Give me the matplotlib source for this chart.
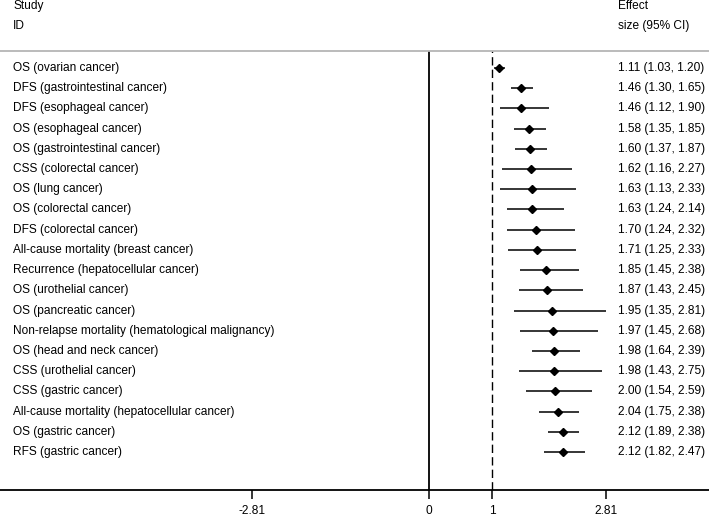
"""Forest plot of effect sizes (95% CI) by outcome and cancer type."""

import matplotlib.pyplot as plt
import matplotlib.transforms as mtransforms

plt.rcParams["font.family"] = ["Liberation Sans", "DejaVu Sans"]

studies = [
    "OS (ovarian cancer)",
    "DFS (gastrointestinal cancer)",
    "DFS (esophageal cancer)",
    "OS (esophageal cancer)",
    "OS (gastrointestinal cancer)",
    "CSS (colorectal cancer)",
    "OS (lung cancer)",
    "OS (colorectal cancer)",
    "DFS (colorectal cancer)",
    "All-cause mortality (breast cancer)",
    "Recurrence (hepatocellular cancer)",
    "OS (urothelial cancer)",
    "OS (pancreatic cancer)",
    "Non-relapse mortality (hematological malignancy)",
    "OS (head and neck cancer)",
    "CSS (urothelial cancer)",
    "CSS (gastric cancer)",
    "All-cause mortality (hepatocellular cancer)",
    "OS (gastric cancer)",
    "RFS (gastric cancer)",
]
effect = [1.11, 1.46, 1.46, 1.58, 1.60, 1.62, 1.63, 1.63, 1.70, 1.71,
          1.85, 1.87, 1.95, 1.97, 1.98, 1.98, 2.00, 2.04, 2.12, 2.12]
ci_low = [1.03, 1.30, 1.12, 1.35, 1.37, 1.16, 1.13, 1.24, 1.24, 1.25,
          1.45, 1.43, 1.35, 1.45, 1.64, 1.43, 1.54, 1.75, 1.89, 1.82]
ci_high = [1.20, 1.65, 1.90, 1.85, 1.87, 2.27, 2.33, 2.14, 2.32, 2.33,
           2.38, 2.45, 2.81, 2.68, 2.39, 2.75, 2.59, 2.38, 2.38, 2.47]
tick_values = [-2.81, 0, 1, 2.81]
tick_labels = ["-2.81", "0", "1", "2.81"]

W, H = 709, 517
FS = 8.6
fig = plt.figure(figsize=(W / 100, H / 100), dpi=100)

# axes spans the full width, from the grey header rule down to the x axis line
top_px, bottom_px = 51, 490
ax = fig.add_axes([0, 1 - bottom_px / H, 1, (bottom_px - top_px) / H])

# x scale: 0 sits at pixel 429, about 63 px per unit
px_per_unit = 63.0
x0_px = 429
ax.set_xlim(-x0_px / px_per_unit, (W - x0_px) / px_per_unit)

# rows: first at pixel 68, last at 452
first_px, last_px = 68, 452
step = (last_px - first_px) / (len(studies) - 1)
ax.set_ylim((bottom_px - first_px) / step, (top_px - first_px) / step)

rows = list(range(len(studies)))
ax.hlines(rows, ci_low, ci_high, color="black", lw=1.1)
ax.plot(effect, rows, "D", color="black", ms=4.4, ls="none")

ax.axvline(0, color="black", lw=1.3)
ax.axvline(1, color="black", lw=1.0, dashes=(6, 3))

for side in ("left", "right"):
    ax.spines[side].set_visible(False)
ax.spines["top"].set_color("#b5b5b5")
ax.spines["top"].set_linewidth(1.3)
ax.spines["bottom"].set_linewidth(1.3)

ax.set_yticks([])
ax.set_xticks(tick_values)
ax.set_xticklabels(tick_labels, fontsize=FS)
ax.tick_params(axis="x", length=6.5, width=1.1, pad=4.5)

trans = mtransforms.blended_transform_factory(fig.transFigure, ax.transData)
for i, name in enumerate(studies):
    ax.text(13 / W, i, name, transform=trans, fontsize=FS,
            va="center", ha="left")
    label = f"{effect[i]:.2f} ({ci_low[i]:.2f}, {ci_high[i]:.2f})"
    ax.text(618 / W, i, label, transform=trans, fontsize=FS,
            va="center", ha="left")

fig.text(13 / W, 1 - 6 / H, "Study", fontsize=FS, va="center")
fig.text(13 / W, 1 - 26 / H, "ID", fontsize=FS, va="center")
fig.text(618 / W, 1 - 6 / H, "Effect", fontsize=FS, va="center")
fig.text(618 / W, 1 - 26 / H, "size (95% CI)", fontsize=FS, va="center")

fig.savefig("out.png", dpi=100)
